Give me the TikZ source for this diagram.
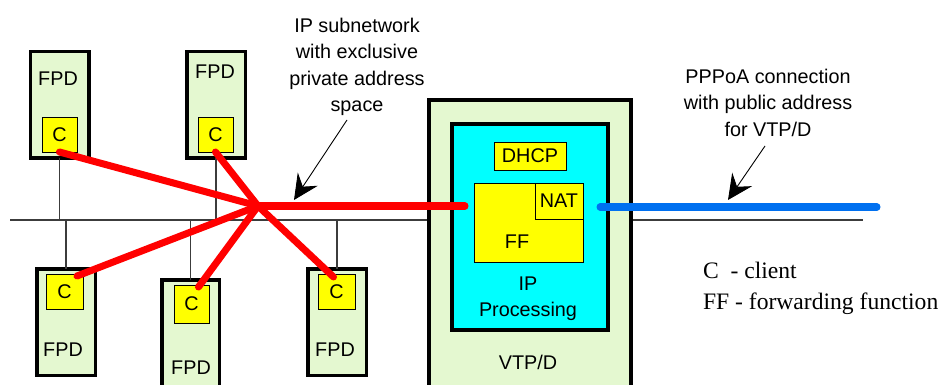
\documentclass[tikz,border=0pt]{standalone}
\usepackage{fontspec}
\setmainfont{Liberation Sans}
\newfontfamily\legendfont{Liberation Serif}
\usetikzlibrary{arrows.meta,calc}
\definecolor{fpdgreen}{RGB}{228,248,208}
\definecolor{ipcyan}{RGB}{0,255,255}
\definecolor{fnyellow}{RGB}{255,255,0}
\definecolor{privred}{RGB}{255,0,0}
\definecolor{pubblue}{RGB}{0,112,240}
\definecolor{busgray}{RGB}{60,60,60}

\begin{document}
\begin{tikzpicture}[x=1pt,y=-1pt,
  every node/.style={inner sep=0pt, outer sep=0pt, text=black,
    font=\fontsize{19.8}{26.5}\selectfont},
  device/.style={draw=black, line width=3.5pt, fill=fpdgreen,
    minimum width=58.5pt, minimum height=106.5pt},
  clientbox/.style={draw=black, line width=0.9pt, fill=fnyellow,
    minimum width=35pt, minimum height=35pt},
  fnbox/.style={draw=black, line width=0.9pt, fill=fnyellow},
  bus/.style={draw=busgray, line width=1.2pt},
  privlink/.style={draw=privred, line width=7pt, line cap=round},
  publink/.style={draw=pubblue, line width=7pt, line cap=round},
  pointer/.style={draw=black, line width=0.9pt,
    -{Stealth[length=25pt,width=24pt,inset=9pt]}},
  note/.style={align=center}
]
\clip (0,0) rectangle (943,385);
\fill[white] (0,0) rectangle (943,385);

% shared LAN bus
\coordinate (busL) at (10,220);
\coordinate (busR) at (863,220);
\draw[bus] (busL) -- (busR);

% FPD devices above the bus
\node[device] (fpdA) at (59.5,105) {};
\node[device] (fpdB) at (216,105) {};
% FPD devices below the bus
\node[device] (fpdC) at (66,322) {};
\node[device, minimum width=57.5pt, minimum height=118.5pt] (fpdD) at (190.5,339) {};
\node[device] (fpdE) at (337,322) {};

% drops from each device to the bus
\foreach \d in {fpdA,fpdB}{\draw[bus] (\d.south) -- (\d.south |- busL);}
\foreach \d in {fpdC,fpdD,fpdE}{\draw[bus] (\d.north) -- (\d.north |- busL);}

% device labels
\node (tA) at (58,79) {FPD};
\node (tB) at (215,72) {FPD};
\node (tC) at (63,350) {FPD};
\node (tD) at (191,368) {FPD};
\node (tE) at (335,350) {FPD};

% client functions
\node[clientbox] (cA) at (59.5,134.5) {C};
\node[clientbox] (cB) at (215.5,134.5) {C};
\node[clientbox, minimum width=37pt] (cC) at (64.5,291.5) {C};
\node[clientbox, minimum height=38pt] (cD) at (191.5,304) {C};
\node[clientbox, minimum width=37pt] (cE) at (336.5,291.5) {C};

% VTP/D with its IP processing block
\node[draw=black, line width=4pt, fill=fpdgreen,
      minimum width=202pt, minimum height=298pt] (vtp) at (530,249) {};
\node[draw=black, line width=4pt, fill=ipcyan,
      minimum width=156pt, minimum height=206pt] (ipp) at (530,227) {};
\node[fnbox, minimum width=72pt, minimum height=28pt] (dhcp) at (530,156) {DHCP};
\node[fnbox, minimum width=109pt, minimum height=79pt] (ff) at (528.5,222.5) {};
\node[fnbox, minimum width=48pt, minimum height=36pt] (nat) at (559,201) {NAT};
\node (ffT) at (517,242) {FF};
\node[note] (ipT) at (528,298.5) {IP\\Processing};
\node (vtpT) at (528,362) {VTP/D};

% private IP subnetwork (star from the clients)
\coordinate (hub) at (258,206);
\draw[privlink] (cA.south) -- (hub);
\draw[privlink] (cB.south) -- (hub);
\draw[privlink] ([xshift=-6pt,yshift=-2pt]cC.north east) -- (hub);
\draw[privlink] ([xshift=7pt,yshift=-2pt]cD.north) -- (hub);
\draw[privlink] ([xshift=-3pt,yshift=-3pt]cE.north) -- (hub);
\draw[privlink] (hub) -- ([xshift=-9pt]ff.west |- hub);

% public PPPoA connection
\coordinate (pubEnd) at (877,207);
\draw[publink] ([xshift=17pt]ff.east |- pubEnd) -- (pubEnd);

% annotations
\node[note] (subnet) at (357,67) {IP subnetwork\\with exclusive\\private address\\space};
\coordinate (subTail) at (347,120);
\coordinate (subTip) at (294,200);
\draw[pointer] (subTail) -- (subTip);

\node[note] (pppoa) at (768,102.5) {PPPoA connection\\with public address\\for VTP/D};
\coordinate (pubTail) at (765,146);
\coordinate (pubTip) at (728,200);
\draw[pointer] (pubTail) -- (pubTip);

% legend
\node[anchor=west, align=left, font=\legendfont\fontsize{23.6}{31}\selectfont]
  (legend) at (703,288) {C\ \ - client\\FF - forwarding function};
\end{tikzpicture}
\end{document}
